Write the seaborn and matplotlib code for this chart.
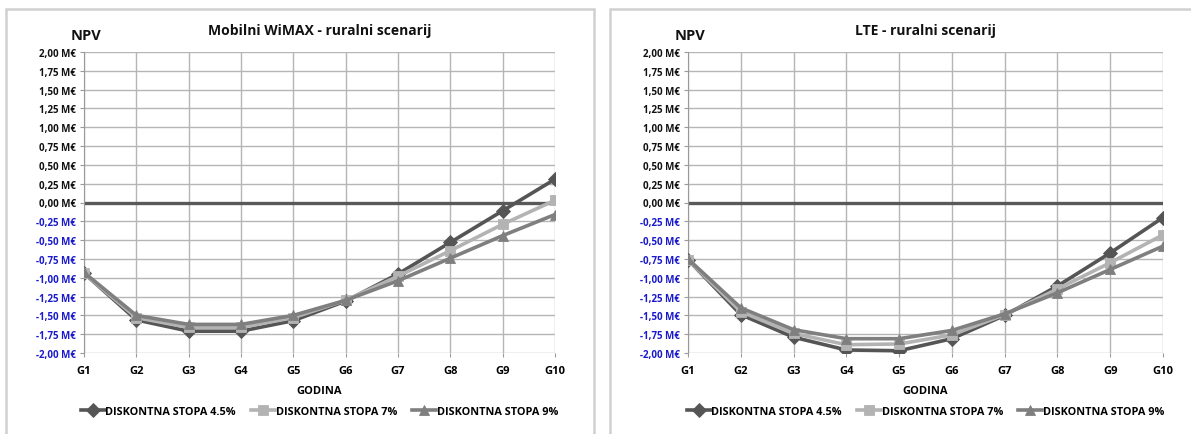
import pandas as pd
import matplotlib
matplotlib.use('Agg')
import matplotlib.pyplot as plt
import seaborn as sns
from matplotlib.patches import Rectangle

godine = ['G1', 'G2', 'G3', 'G4', 'G5', 'G6', 'G7', 'G8', 'G9', 'G10']
stope = ['DISKONTNA STOPA 4.5%', 'DISKONTNA STOPA 7%', 'DISKONTNA STOPA 9%']

# NPV u milijunima eura, ocitano s grafa
wimax_45 = [-0.94, -1.56, -1.71, -1.71, -1.57, -1.31, -0.95, -0.53, -0.11, 0.31]
wimax_7 = [-0.94, -1.53, -1.66, -1.66, -1.53, -1.30, -0.98, -0.64, -0.29, 0.03]
wimax_9 = [-0.93, -1.50, -1.62, -1.62, -1.50, -1.30, -1.04, -0.74, -0.44, -0.16]

lte_45 = [-0.76, -1.49, -1.79, -1.96, -1.97, -1.81, -1.50, -1.11, -0.67, -0.20]
lte_7 = [-0.76, -1.45, -1.74, -1.89, -1.88, -1.76, -1.49, -1.15, -0.80, -0.43]
lte_9 = [-0.75, -1.40, -1.69, -1.81, -1.81, -1.70, -1.48, -1.20, -0.89, -0.58]

y_ticks = [-2.0, -1.75, -1.5, -1.25, -1.0, -0.75, -0.5, -0.25, 0.0, 0.25, 0.5, 0.75, 1.0, 1.25, 1.5, 1.75, 2.0]

W, H = 1191, 435
FONT = ['Open Sans', 'DejaVu Sans']


def make_df(a, b, c):
    rows = []
    for name, vals in zip(stope, [a, b, c]):
        for g, v in zip(godine, vals):
            rows.append({'godina': g, 'npv': v, 'stopa': name})
    return pd.DataFrame(rows)


def fmt(v):
    return f"{v:.2f}".replace('.', ',') + " M\u20ac"


def draw_panel(fig, df, title, px_left, px_right):
    ax = fig.add_axes([px_left / W, (H - 354) / H, (px_right - px_left) / W, 301 / H])
    sns.lineplot(data=df, x='godina', y='npv', hue='stopa', style='stopa',
                 markers=['D', 's', '^'], dashes=False,
                 palette=['#555555', '#b3b3b3', '#7f7f7f'],
                 linewidth=2.6, markersize=7, markeredgewidth=0.6,
                 sort=False, ax=ax, zorder=3)
    for line in ax.lines:
        line.set_markeredgecolor(line.get_color())
    ax.axhline(0, color='#595959', linewidth=2.4, zorder=2)
    ax.set_xlim(0, 9)
    ax.set_ylim(-2, 2)
    ax.set_yticks(y_ticks)
    ax.set_yticklabels([fmt(v) for v in y_ticks], fontsize=7, fontweight='bold', family=FONT)
    for lbl, v in zip(ax.get_yticklabels(), y_ticks):
        lbl.set_color('#1a1acc' if v < 0 else '#111111')
    ax.set_xticks(range(len(godine)))
    ax.set_xticklabels(godine, fontsize=8, fontweight='bold', family=FONT)
    ax.grid(True, color='#b5b5b5', linewidth=1)
    ax.set_axisbelow(True)
    for s in ['top', 'right', 'bottom']:
        ax.spines[s].set_visible(False)
    ax.spines['left'].set_color('#9a9a9a')
    ax.tick_params(axis='both', length=3, color='#9a9a9a', pad=3)
    ax.tick_params(axis='x', pad=6)
    ax.set_xlabel('GODINA', fontsize=8, fontweight='bold', family=FONT, labelpad=6)
    ax.set_ylabel('')
    ax.set_title(title, fontsize=10, fontweight='bold', family=FONT, pad=13, color='#111111')
    ax.text(0.005, 1.055, 'NPV', transform=ax.transAxes, ha='center', va='center',
            fontsize=10.5, fontweight='bold', family=FONT, color='#111111')
    leg = ax.legend(loc='center', bbox_to_anchor=(0.5, -0.195), ncol=3, frameon=False,
                    handlelength=2.2, columnspacing=1.4, handletextpad=0.05,
                    prop={'family': FONT, 'weight': 'bold', 'size': 7.8})
    for line in leg.get_lines():
        line.set_linewidth(2.6)
        line.set_markeredgecolor(line.get_color())
    return ax


fig = plt.figure(figsize=(W / 100, H / 100), dpi=100)
fig.patches.append(Rectangle((6 / W, -0.05), 588 / W, (H - 10) / H + 0.05, transform=fig.transFigure,
                             fill=False, edgecolor='#d0d0d0', linewidth=1.8))
fig.patches.append(Rectangle((610 / W, -0.05), 600 / W, (H - 10) / H + 0.05, transform=fig.transFigure,
                             fill=False, edgecolor='#d0d0d0', linewidth=1.8))

draw_panel(fig, make_df(wimax_45, wimax_7, wimax_9), 'Mobilni WiMAX - ruralni scenarij', 84, 555)
draw_panel(fig, make_df(lte_45, lte_7, lte_9), 'LTE - ruralni scenarij', 688, 1163)

fig.savefig('out.png', dpi=100)
plt.close(fig)
